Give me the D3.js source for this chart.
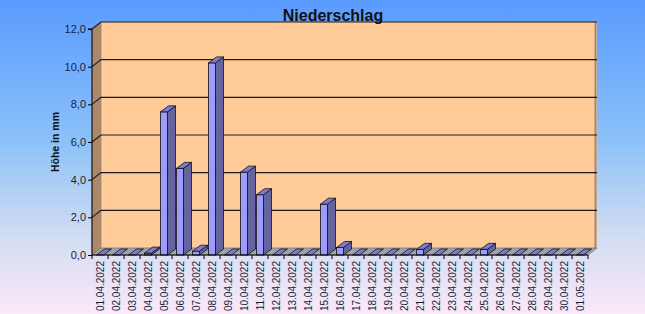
<!DOCTYPE html>
<html>
<head>
<meta charset="utf-8">
<script src="https://cdn.jsdelivr.net/npm/d3@7"></script>
<style>
  body { margin: 0; }
  svg { display: block; font-family: "Liberation Sans", Arial, sans-serif; }
</style>
</head>
<body>
<div id="chart"></div>
<script>
// data
const dates = ["01.04.2022","02.04.2022","03.04.2022","04.04.2022","05.04.2022","06.04.2022",
  "07.04.2022","08.04.2022","09.04.2022","10.04.2022","11.04.2022","12.04.2022","13.04.2022",
  "14.04.2022","15.04.2022","16.04.2022","17.04.2022","18.04.2022","19.04.2022","20.04.2022",
  "21.04.2022","22.04.2022","23.04.2022","24.04.2022","25.04.2022","26.04.2022","27.04.2022",
  "28.04.2022","29.04.2022","30.04.2022","01.05.2022"];
const rain = [0, 0, 0, 0.1, 7.6, 4.6, 0.2, 10.2, 0, 4.4, 3.2, 0, 0, 0, 2.7, 0.4,
  0, 0, 0, 0, 0.3, 0, 0, 0, 0.3, 0, 0, 0, 0, 0, 0];
const yTicks = [0, 2, 4, 6, 8, 10, 12];

const width = 645, height = 314;
const dx = 9, dy = 7;      // depth of the 3d box
const bdx = 8, bdy = 6;    // depth of a column
const barW = 7;

const svg = d3.select('#chart').append('svg')
  .attr('width', width)
  .attr('height', height);

const defs = svg.append('defs');
const grad = defs.append('linearGradient')
  .attr('id', 'bg').attr('x1', 0).attr('y1', 0).attr('x2', 0).attr('y2', 1);
grad.append('stop').attr('offset', '0%').attr('stop-color', '#5a9bff');
grad.append('stop').attr('offset', '45%').attr('stop-color', '#8cc2f9');
grad.append('stop').attr('offset', '75%').attr('stop-color', '#d2dcf1');
grad.append('stop').attr('offset', '100%').attr('stop-color', '#fbe8f8');

svg.append('rect').attr('width', width).attr('height', height).attr('fill', 'url(#bg)');

const x = d3.scaleBand().domain(dates).range([92, 588]);
const y = d3.scaleLinear().domain([0, 12]).range([255, 29]);

const de = d3.formatLocale({ decimal: ',', thousands: '.', grouping: [3], currency: ['', ' €'] });
const fmt = de.format('.1f');

const x0 = x.range()[0], x1 = x.range()[1];
const yTop = y(12), yBot = y(0);

// back wall
svg.append('rect')
  .attr('x', x0 + dx).attr('y', yTop - dy)
  .attr('width', x1 - x0).attr('height', yBot - yTop)
  .attr('fill', '#ffcc99');
svg.append('line')
  .attr('x1', x1 + dx - 1.5).attr('x2', x1 + dx - 1.5)
  .attr('y1', yTop - dy).attr('y2', yBot - dy)
  .attr('stroke', '#9a8a7a').attr('stroke-width', 2);

// side wall
svg.append('polygon')
  .attr('points', [[x0, yTop], [x0 + dx, yTop - dy], [x0 + dx, yBot - dy], [x0, yBot]].join(' '))
  .attr('fill', '#ad8767').attr('stroke', '#8a8a8a').attr('stroke-width', 0.8);

// floor
svg.append('polygon')
  .attr('points', [[x0, yBot], [x0 + dx, yBot - dy], [x1 + dx, yBot - dy], [x1, yBot]].join(' '))
  .attr('fill', '#a3a3a3').attr('stroke', '#777').attr('stroke-width', 0.8);

// grid lines
svg.append('g').selectAll('path')
  .data(yTicks.filter(t => t > 0))
  .enter()
  .append('path')
  .attr('d', t => `M${x0},${y(t)}L${x0 + dx},${y(t) - dy}L${x1 + dx},${y(t) - dy}`)
  .attr('fill', 'none')
  .attr('stroke', '#1a1a1a')
  .attr('stroke-width', 1.1);

// columns
const bars = svg.append('g').selectAll('g')
  .data(dates.map((d, i) => ({ date: d, v: rain[i] })))
  .enter()
  .append('g');

bars.each(function (d) {
  const g = d3.select(this);
  const cx = x(d.date) + x.bandwidth() / 2;
  const l = cx - barW / 2, r = cx + barW / 2;
  const t = y(d.v), b = y(0);
  if (d.v > 0) {
    g.append('polygon')
      .attr('points', [[r, b], [r + bdx, b - bdy], [r + bdx, t - bdy], [r, t]].join(' '))
      .attr('fill', '#64649f').attr('stroke', '#111').attr('stroke-width', 0.8);
    g.append('rect')
      .attr('x', l).attr('y', t).attr('width', barW).attr('height', b - t)
      .attr('fill', '#9c9cff').attr('stroke', '#111').attr('stroke-width', 0.8);
  }
  g.append('polygon')
    .attr('points', [[l, t], [l + bdx, t - bdy], [r + bdx, t - bdy], [r, t]].join(' '))
    .attr('fill', '#7c7cd8').attr('stroke', '#111').attr('stroke-width', 0.8);
});

// y axis
const yAxis = d3.axisLeft(y).tickValues(yTicks).tickFormat(fmt).tickSize(4).tickPadding(2);
const gy = svg.append('g')
  .attr('transform', `translate(${x0},0)`)
  .call(yAxis);
gy.select('.domain').attr('stroke', '#000').attr('d', `M-4,${yTop}H0V${yBot}`);
gy.selectAll('.tick line').attr('stroke', '#000');
gy.selectAll('.tick text')
  .attr('fill', '#1c1c38')
  .style('font-size', '11px');

// x axis
const xAxis = d3.axisBottom(x).tickSize(0).tickPadding(0);
const gx = svg.append('g')
  .attr('transform', `translate(0,${yBot})`)
  .call(xAxis);
gx.select('.domain').attr('stroke', '#000').attr('d', `M${x0},0H${x1}`);
gx.selectAll('.tick text')
  .attr('fill', '#1c1c38')
  .style('font-size', '10px')
  .attr('text-anchor', 'end')
  .attr('transform', 'rotate(-90)')
  .attr('x', -6)
  .attr('y', 0)
  .attr('dy', '0.35em');

// boundary ticks between categories
svg.append('g').selectAll('line')
  .data(dates.concat(['end']))
  .enter()
  .append('line')
  .attr('x1', (d, i) => x0 + i * x.bandwidth())
  .attr('x2', (d, i) => x0 + i * x.bandwidth())
  .attr('y1', yBot).attr('y2', yBot + 4)
  .attr('stroke', '#000');

// titles
svg.append('text')
  .attr('x', 333).attr('y', 21)
  .attr('text-anchor', 'middle')
  .style('font-size', '16px')
  .style('font-weight', 'bold')
  .attr('fill', '#111')
  .text('Niederschlag');

svg.append('text')
  .attr('transform', 'translate(59,142) rotate(-90)')
  .attr('text-anchor', 'middle')
  .style('font-size', '10.5px')
  .style('font-weight', 'bold')
  .attr('fill', '#111')
  .text('Höhe in mm');
</script>
</body>
</html>
